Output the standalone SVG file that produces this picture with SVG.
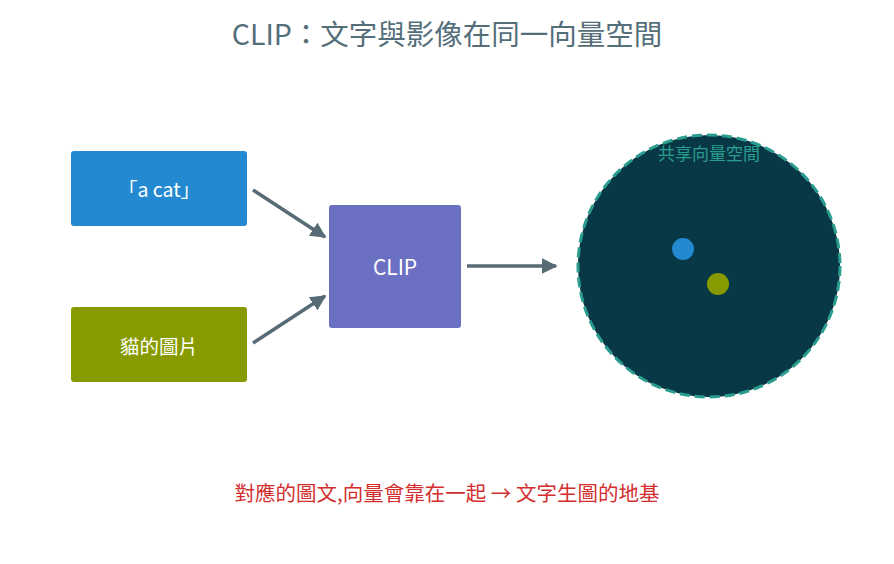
<svg xmlns="http://www.w3.org/2000/svg" width="894" height="564" viewBox="0 0 894 564">
<style>
text{font-family:"Noto Sans CJK TC","Noto Sans",sans-serif;}
.title{font-size:28.5px;fill:#546e7a;text-anchor:middle;}
.lbl{font-size:19.5px;fill:#ffffff;text-anchor:middle;dominant-baseline:central;}
.conn{stroke:#566b73;stroke-width:3.5;fill:none;marker-end:url(#ah);}
.note{font-size:20.5px;fill:#d32f2f;text-anchor:middle;}
</style>
<defs>
<marker id="ah" viewBox="0 0 10 10" refX="9" refY="5" markerWidth="4.5" markerHeight="4.5" orient="auto" markerUnits="strokeWidth">
<path d="M0,0 L10,5 L0,10 z" fill="#566b73"/>
</marker>
</defs>
<rect width="894" height="564" fill="#ffffff"/>
<text class="title" x="447" y="45">CLIP：文字與影像在同一向量空間</text>
<g id="text-node">
<rect x="71" y="151" width="176" height="75" rx="3" fill="#2389d0"/>
<text class="lbl" x="159" y="188">「a cat」</text>
</g>
<g id="image-node">
<rect x="71" y="307" width="176" height="75" rx="3" fill="#879b00"/>
<text class="lbl" x="159" y="345">貓的圖片</text>
</g>
<g id="clip-node">
<rect x="329" y="205" width="132" height="123" rx="3" fill="#6c70c2"/>
<text class="lbl" x="395" y="266" style="font-size:21px">CLIP</text>
</g>
<g id="space-node">
<circle cx="709" cy="266" r="131" fill="#083845" stroke="#2a9d8f" stroke-width="3" stroke-dasharray="10,5"/>
<text x="709" y="160" font-size="17" fill="#2a9d8f" text-anchor="middle">共享向量空間</text>
<circle cx="683" cy="249" r="11" fill="#2389d0"/>
<circle cx="718" cy="284" r="11" fill="#879b00"/>
</g>
<g id="connectors">
<line class="conn" x1="253" y1="190" x2="325" y2="237"/>
<line class="conn" x1="253" y1="343" x2="325" y2="296"/>
<line class="conn" x1="467" y1="266" x2="556" y2="266"/>
</g>
<text class="note" x="447" y="501">對應的圖文,向量會靠在一起 → 文字生圖的地基</text>
</svg>
